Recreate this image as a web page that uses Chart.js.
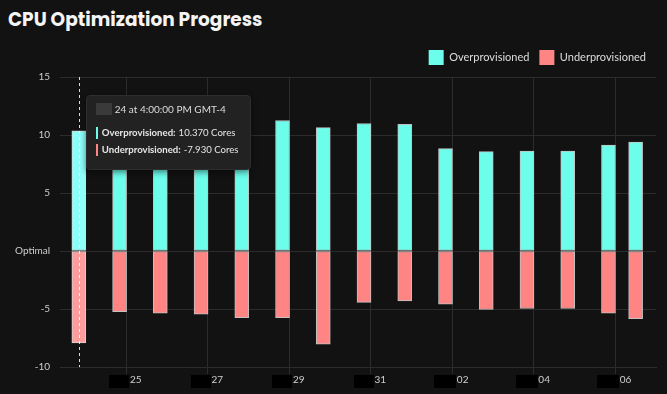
<!DOCTYPE html>
<html>
<head>
<meta charset="utf-8">
<script src="https://cdn.jsdelivr.net/npm/chart.js@4.4.1/dist/chart.umd.min.js"></script>
<style>
  html, body { margin: 0; padding: 0; background: #121212; }
  body { width: 667px; height: 394px; position: relative; overflow: hidden; font-family: Lato, sans-serif; }
  #title {
    position: absolute; left: 8px; top: 8px; line-height: 24px;
    font-family: Poppins, Inter, sans-serif; font-weight: 700; font-size: 18.5px; color: #f4f4f4;
  }
  #wrap { position: absolute; left: 0; top: 0; width: 667px; height: 394px; }
  #tip {
    position: absolute; display: none; pointer-events: none;
    background: #222222; border: 1px solid #2e2e2e; border-radius: 4px;
    padding: 6px 11px 8px 9px; color: #e6e6e6; font-size: 9.6px; line-height: 14px;
    box-shadow: 0 2px 6px rgba(0,0,0,0.5); white-space: nowrap;
  }
  #tip .ttl { color: #dcdcdc; margin-bottom: 10px; font-size: 10px; }
  #tip .redact { background: #3a3a3a; color: #3a3a3a; border-radius: 1px; }
  #tip .row { display: flex; align-items: center; margin-bottom: 3.4px; }
  #tip .row i { display: inline-block; width: 2px; height: 12px; margin-right: 4px; }
  #tip b { font-weight: 700; margin-right: 3px; }
</style>
</head>
<body>
<div id="title">CPU Optimization Progress</div>
<div id="wrap"><canvas id="chart"></canvas></div>
<div id="tip"></div>
<script>
const times = [
  '2024-10-23T20:00:00Z', '2024-10-24T20:00:00Z', '2024-10-25T20:00:00Z', '2024-10-26T20:00:00Z',
  '2024-10-27T20:00:00Z', '2024-10-28T20:00:00Z', '2024-10-29T20:00:00Z', '2024-10-30T20:00:00Z',
  '2024-10-31T20:00:00Z', '2024-11-01T20:00:00Z', '2024-11-02T20:00:00Z', '2024-11-03T20:00:00Z',
  '2024-11-04T20:00:00Z', '2024-11-05T20:00:00Z', '2024-11-06T12:00:00Z'
];
const barLabels = [
  'Oct 24', 'Oct 25', 'Oct 26', 'Oct 27', 'Oct 28', 'Oct 29', 'Oct 30', 'Oct 31',
  'Nov 01', 'Nov 02', 'Nov 03', 'Nov 04', 'Nov 05', 'Nov 06', 'Nov 07'
];
const overprovisioned = [10.37, 10.6, 10.3, 10.9, 11.1, 11.25, 10.64, 10.99, 10.93, 8.82, 8.56, 8.61, 8.61, 9.13, 9.39];
const underprovisioned = [-7.93, -5.22, -5.36, -5.45, -5.74, -5.74, -8.03, -4.43, -4.31, -4.58, -5.04, -4.96, -4.96, -5.36, -5.83];

const tickDates = ['2024-10-25', '2024-10-27', '2024-10-29', '2024-10-31', '2024-11-02', '2024-11-04', '2024-11-06'];
const tickLabels = ['Oct 25', 'Oct 27', 'Oct 29', 'Oct 31', 'Nov 02', 'Nov 04', 'Nov 06'];
const xMin = '2024-10-23T09:00:00Z';
const xMax = '2024-11-07T00:00:00Z';

const CYAN = '#6cfdeb';
const RED = '#ff8585';
const GRID = '#2c2c2c';
const TEXT = '#cfcfcf';
const FONT = { family: 'Lato, sans-serif', size: 11 };
const TICK_FONT = { family: 'Lato, sans-serif', size: 10 };

const tipEl = document.getElementById('tip');

function toPoints(values) {
  return values.map((v, i) => ({ x: Date.parse(times[i]), y: v }));
}

function externalTooltip(context) {
  const { chart, tooltip } = context;
  if (tooltip.opacity === 0 || !tooltip.dataPoints || !tooltip.dataPoints.length) {
    tipEl.style.display = 'none';
    return;
  }
  const idx = tooltip.dataPoints[0].dataIndex;
  const [mon, day] = barLabels[idx].split(' ');
  let html = `<div class="ttl"><span class="redact">${mon}</span> ${day} at 4:00:00 PM GMT-4</div>`;
  for (const dp of tooltip.dataPoints) {
    const ds = chart.data.datasets[dp.datasetIndex];
    html += `<div class="row"><i style="background:${ds.backgroundColor}"></i>` +
      `<b>${ds.label}:</b> ${dp.parsed.y.toFixed(3)} Cores</div>`;
  }
  tipEl.innerHTML = html;
  tipEl.style.display = 'block';
  tipEl.style.left = (tooltip.caretX + 7) + 'px';
  tipEl.style.top = (chart.chartArea.top + 18) + 'px';
}

// dashed line at the hovered bar
const crosshair = {
  id: 'crosshair',
  afterDatasetsDraw(chart) {
    const active = chart.tooltip.getActiveElements();
    if (!active.length) return;
    const x = Math.round(active[0].element.x) + 0.5;
    const { ctx, chartArea } = chart;
    ctx.save();
    ctx.strokeStyle = 'rgba(255,255,255,0.85)';
    ctx.lineWidth = 1;
    ctx.setLineDash([3, 3]);
    ctx.beginPath();
    ctx.moveTo(x, chartArea.top);
    ctx.lineTo(x, chartArea.bottom);
    ctx.stroke();
    ctx.restore();
  }
};

// black boxes over the month names, as in the reference
const redact = {
  id: 'redact',
  afterDraw(chart) {
    const scale = chart.scales.x;
    const ctx = chart.ctx;
    ctx.save();
    ctx.font = `${TICK_FONT.size}px ${TICK_FONT.family}`;
    scale.ticks.forEach((t, i) => {
      const label = tickLabels[i];
      const px = scale.getPixelForValue(t.value);
      const full = ctx.measureText(label).width;
      const mon = ctx.measureText(label.split(' ')[0]).width;
      const left = px - full / 2;
      ctx.fillStyle = '#000';
      ctx.fillRect(Math.round(left) - 2, scale.top + 8, Math.round(mon) + 4, 13);
    });
    ctx.restore();
  }
};

// a little more room under the legend
const legendGap = {
  id: 'legendGap',
  beforeInit(chart) {
    const fit = chart.legend.fit;
    chart.legend.fit = function () {
      fit.call(this);
      this.height += 2;
    };
  }
};

const chart = new Chart(document.getElementById('chart'), {
  type: 'bar',
  data: {
    datasets: [
      {
        label: 'Overprovisioned',
        data: toPoints(overprovisioned),
        backgroundColor: CYAN,
        hoverBackgroundColor: '#8cfffa',
        borderColor: 'rgba(225,225,225,0.85)',
        hoverBorderColor: 'rgba(235,235,235,0.9)',
        borderWidth: 1,
        borderSkipped: false,
        barThickness: 14
      },
      {
        label: 'Underprovisioned',
        data: toPoints(underprovisioned),
        backgroundColor: RED,
        hoverBackgroundColor: '#ff9d9d',
        borderColor: 'rgba(225,225,225,0.85)',
        hoverBorderColor: 'rgba(235,235,235,0.9)',
        borderWidth: 1,
        borderSkipped: false,
        barThickness: 14
      }
    ]
  },
  options: {
    responsive: true,
    maintainAspectRatio: false,
    animation: false,
    layout: { padding: { left: 5, right: 11, top: 40, bottom: 8 } },
    interaction: { mode: 'index', intersect: false },
    plugins: {
      legend: {
        position: 'top',
        align: 'end',
        labels: {
          color: '#dedede',
          font: FONT,
          boxWidth: 15,
          boxHeight: 15,
          padding: 10,
          generateLabels(chart) {
            return chart.data.datasets.map((ds, i) => ({
              text: ds.label,
              fillStyle: ds.backgroundColor,
              strokeStyle: ds.backgroundColor,
              lineWidth: 0,
              fontColor: '#dedede',
              datasetIndex: i,
              hidden: false
            }));
          }
        }
      },
      tooltip: { enabled: false, external: externalTooltip }
    },
    scales: {
      x: {
        type: 'linear',
        stacked: true,
        offset: false,
        min: Date.parse(xMin),
        max: Date.parse(xMax),
        afterBuildTicks(scale) {
          scale.ticks = tickDates.map(d => ({ value: Date.parse(d + 'T00:00:00Z') }));
        },
        ticks: {
          color: TEXT,
          font: TICK_FONT,
          padding: 0,
          maxRotation: 0,
          autoSkip: false,
          callback: (v, i) => tickLabels[i]
        },
        grid: { color: GRID, tickLength: 7, drawTicks: true, offset: false },
        border: { color: GRID }
      },
      y: {
        stacked: true,
        min: -10,
        max: 15,
        ticks: {
          stepSize: 5,
          color: TEXT,
          font: TICK_FONT,
          padding: 10,
          callback: v => (v === 0 ? 'Optimal' : v)
        },
        grid: { color: GRID, drawTicks: false },
        border: { display: false }
      }
    }
  },
  plugins: [crosshair, redact, legendGap]
});

const activeEls = [{ datasetIndex: 0, index: 0 }, { datasetIndex: 1, index: 0 }];
const bar0 = chart.getDatasetMeta(0).data[0];
chart.setActiveElements(activeEls);
chart.tooltip.setActiveElements(activeEls, { x: bar0.x, y: bar0.y });
chart.update();
</script>
</body>
</html>
